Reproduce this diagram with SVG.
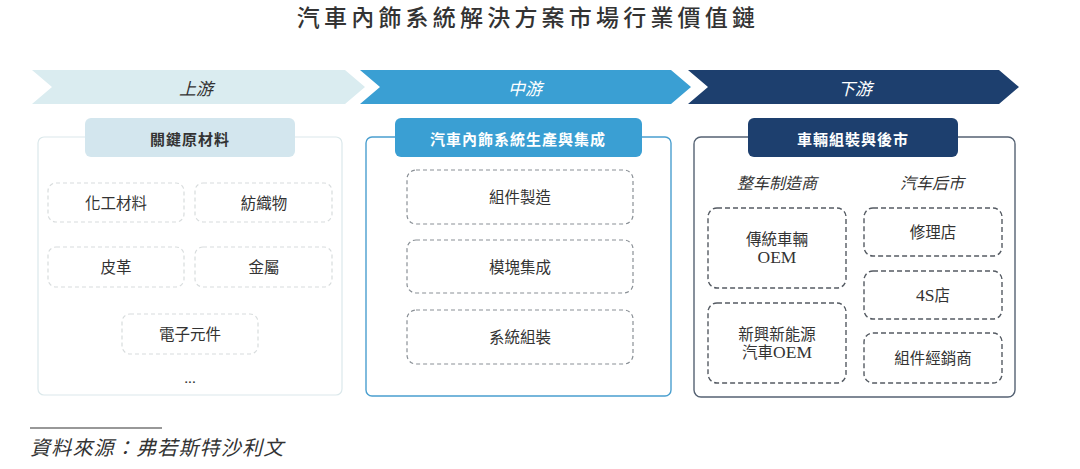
<svg xmlns="http://www.w3.org/2000/svg" width="1080" height="469" viewBox="0 0 1080 469">
<style>
.title{font-family:"Noto Sans CJK TC","Noto Sans CJK SC",sans-serif;font-size:23px;font-weight:500;fill:#333;letter-spacing:4.2px;text-anchor:middle}
.band{font-family:"Noto Sans CJK TC",sans-serif;font-size:17px;font-style:italic;text-anchor:middle;dominant-baseline:central}
.hdr{font-family:"Noto Sans CJK TC",sans-serif;font-size:15px;font-weight:bold;letter-spacing:1px;text-anchor:middle;dominant-baseline:central}
.item{font-family:"Liberation Serif","Noto Sans CJK TC",serif;font-size:15.5px;fill:#333;text-anchor:middle;dominant-baseline:central}
.lat{font-size:17.5px}
.sub{font-family:"Noto Sans CJK TC",sans-serif;font-size:16px;font-style:italic;fill:#333;text-anchor:middle;dominant-baseline:central}
.src{font-family:"Liberation Serif","Noto Sans CJK TC",serif;font-size:20px;font-style:italic;fill:#333;letter-spacing:1.2px}
.p1{fill:#fff;stroke:#dbe8eb;stroke-width:1.2}
.p2{fill:#fff;stroke:#4a9fcf;stroke-width:1.4}
.p3{fill:#fff;stroke:#556273;stroke-width:1.4}
.d1{fill:#fff;stroke:#d8dcdd;stroke-width:1.2;stroke-dasharray:4 3}
.d2{fill:#fff;stroke:#8a9096;stroke-width:1.2;stroke-dasharray:4 3}
.d3{fill:#fff;stroke:#555b63;stroke-width:1.4;stroke-dasharray:5 3}
</style>
<rect width="1080" height="469" fill="#fff"/>
<text class="title" x="528" y="26">汽車內飾系統解決方案市場行業價值鏈</text>

<g id="band-upstream">
<path d="M32,70 L345,70 L365,87 L345,104 L32,104 L52,87 Z" fill="#daecf0"/>
<text class="band" x="196" y="87" fill="#333">上游</text>
</g>
<g id="band-midstream">
<path d="M360,70 L671,70 L691,87 L671,104 L360,104 L380,87 Z" fill="#3a9fd3"/>
<text class="band" x="525" y="87" fill="#fff">中游</text>
</g>
<g id="band-downstream">
<path d="M688,70 L999,70 L1019,87 L999,104 L688,104 L708,87 Z" fill="#1d3f6e"/>
<text class="band" x="855" y="87" fill="#fff">下游</text>
</g>

<g id="panel-upstream">
<rect class="p1" x="38" y="137" width="304" height="258" rx="6"/>
<rect x="85" y="118" width="210" height="39" rx="6" fill="#d3e6ee"/>
<text class="hdr" x="190" y="138" fill="#333">關鍵原材料</text>
</g>
<g id="u-chem"><rect class="d1" x="48" y="183" width="136" height="39" rx="8"/><text class="item" x="116" y="203">化工材料</text></g>
<g id="u-textile"><rect class="d1" x="195" y="183" width="137" height="39" rx="8"/><text class="item" x="264" y="203">紡織物</text></g>
<g id="u-leather"><rect class="d1" x="48" y="247" width="136" height="40" rx="8"/><text class="item" x="116" y="267">皮革</text></g>
<g id="u-metal"><rect class="d1" x="195" y="247" width="137" height="40" rx="8"/><text class="item" x="264" y="267">金屬</text></g>
<g id="u-elec"><rect class="d1" x="122" y="314" width="136" height="40" rx="8"/><text class="item" x="190" y="334">電子元件</text></g>
<g id="u-more"><text class="item" x="190" y="377">...</text></g>

<g id="panel-midstream">
<rect class="p2" x="366" y="137" width="305" height="259" rx="6"/>
<rect x="395" y="118" width="247" height="39" rx="6" fill="#3a9fd3"/>
<text class="hdr" x="518" y="138" fill="#fff">汽車內飾系統生產與集成</text>
</g>
<g id="m-comp"><rect class="d2" x="407" y="170" width="226" height="54" rx="9"/><text class="item" x="520" y="197">組件製造</text></g>
<g id="m-module"><rect class="d2" x="407" y="240" width="226" height="53" rx="9"/><text class="item" x="520" y="267">模塊集成</text></g>
<g id="m-system"><rect class="d2" x="407" y="310" width="226" height="54" rx="9"/><text class="item" x="520" y="337">系統組裝</text></g>

<g id="panel-downstream">
<rect class="p3" x="694" y="137" width="321" height="260" rx="7"/>
<rect x="748" y="118" width="210" height="39" rx="6" fill="#1d3f6e"/>
<text class="hdr" x="853" y="138" fill="#fff">車輛組裝與後市</text>
<text class="sub" x="777" y="182">整车制造商</text>
<text class="sub" x="932" y="182">汽车后市</text>
</g>
<g id="d-oem"><rect class="d3" x="708" y="208" width="138" height="80" rx="9"/><text class="item" x="777" y="239">傳統車輛</text><text class="item lat" x="777" y="257">OEM</text></g>
<g id="d-nev"><rect class="d3" x="708" y="303" width="138" height="80" rx="9"/><text class="item" x="777" y="334">新興新能源</text><text class="item" x="777" y="352">汽車<tspan class="lat">OEM</tspan></text></g>
<g id="d-repair"><rect class="d3" x="864" y="208" width="138" height="48" rx="9"/><text class="item" x="933" y="232">修理店</text></g>
<g id="d-4s"><rect class="d3" x="864" y="271" width="138" height="48" rx="9"/><text class="item" x="933" y="295"><tspan class="lat">4S</tspan>店</text></g>
<g id="d-dealer"><rect class="d3" x="864" y="333" width="138" height="50" rx="9"/><text class="item" x="933" y="358">組件經銷商</text></g>

<g id="connectors"></g>

<g id="footer">
<line x1="30" y1="428" x2="162" y2="428" stroke="#333" stroke-width="1.2"/>
<text class="src" x="30" y="455">資料來源：弗若斯特沙利文</text>
</g>
</svg>
